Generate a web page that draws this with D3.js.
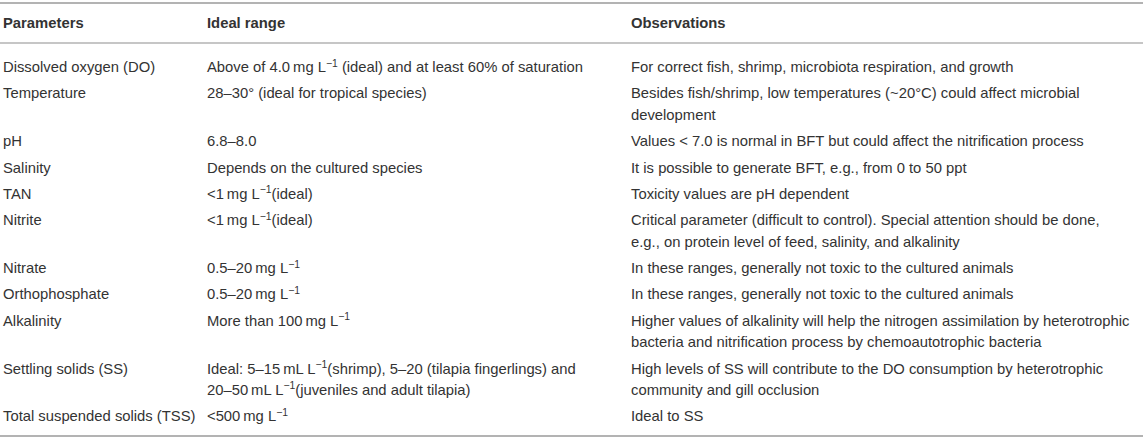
<!DOCTYPE html>
<html>
<head>
<meta charset="utf-8">
<script src="https://cdn.jsdelivr.net/npm/d3@7"></script>
<style>
  html, body { margin: 0; padding: 0; background: #fff; }
  svg { display: block; }
  text { font-family: "Liberation Sans", Arial, Helvetica, sans-serif; fill: #333; }
</style>
</head>
<body>
<svg id="chart" width="1143" height="440"></svg>
<script>
// ---- Data ----
const columns = ["Parameters", "Ideal range", "Observations"];

const parameters = [
  "Dissolved oxygen (DO)",
  "Temperature",
  "pH",
  "Salinity",
  "TAN",
  "Nitrite",
  "Nitrate",
  "Orthophosphate",
  "Alkalinity",
  "Settling solids (SS)",
  "Total suspended solids (TSS)"
];

const idealRanges = [
  ["Above of 4.0\u2009mg L^{\u22121} (ideal) and at least 60% of saturation"],
  ["28\u201330\u00b0 (ideal for tropical species)"],
  ["6.8\u20138.0"],
  ["Depends on the cultured species"],
  ["<1\u2009mg L^{\u22121}(ideal)"],
  ["<1\u2009mg L^{\u22121}(ideal)"],
  ["0.5\u201320\u2009mg L^{\u22121}"],
  ["0.5\u201320\u2009mg L^{\u22121}"],
  ["More than 100\u2009mg L^{\u22121}"],
  ["Ideal: 5\u201315\u2009mL L^{\u22121}(shrimp), 5\u201320 (tilapia fingerlings) and",
   "20\u201350\u2009mL L^{\u22121}(juveniles and adult tilapia)"],
  ["<500\u2009mg L^{\u22121}"]
];

const observations = [
  ["For correct fish, shrimp, microbiota respiration, and growth"],
  ["Besides fish/shrimp, low temperatures (~20\u00b0C) could affect microbial", "development"],
  ["Values < 7.0 is normal in BFT but could affect the nitrification process"],
  ["It is possible to generate BFT, e.g., from 0 to 50 ppt"],
  ["Toxicity values are pH dependent"],
  ["Critical parameter (difficult to control). Special attention should be done,",
   "e.g., on protein level of feed, salinity, and alkalinity"],
  ["In these ranges, generally not toxic to the cultured animals"],
  ["In these ranges, generally not toxic to the cultured animals"],
  ["Higher values of alkalinity will help the nitrogen assimilation by heterotrophic",
   "bacteria and nitrification process by chemoautotrophic bacteria"],
  ["High levels of SS will contribute to the DO consumption by heterotrophic",
   "community and gill occlusion"],
  ["Ideal to SS"]
];

// ---- Layout ----
const W = 1143, H = 440;
const fontSize = 14.8;
const rowPitch = 26.4;   // first line of a row to first line of next row (single-line)
const lineStep = 21.3;   // step between wrapped lines
const firstRowCenter = 66.7;
const headerCenter = 23;
const baselineOffset = 5.3;
const supShift = 5.5;

const svg = d3.select("#chart");

const x = d3.scaleOrdinal().domain(columns).range([3, 207, 631]);

const rows = parameters.map((p, i) => ({
  cells: [[p], idealRanges[i], observations[i]]
}));

// cumulative extra lines before each row
let extra = 0;
rows.forEach((r, i) => {
  r.extraBefore = extra;
  r.index = i;
  const n = d3.max(r.cells, c => c.length);
  extra += n - 1;
});

const y = d3.scaleLinear().domain([0, 1]).range([firstRowCenter, firstRowCenter + rowPitch]);
const rowCenter = r => y(r.index) + r.extraBefore * lineStep;

// rules
const rules = [
  { y: 3, w: 2 },
  { y: 43, w: 1.6 },
  { y: 436, w: 2 }
];
svg.selectAll("line.rule").data(rules).join("line")
  .attr("class", "rule")
  .attr("x1", 0).attr("x2", W)
  .attr("y1", d => d.y).attr("y2", d => d.y)
  .attr("stroke", "#b3b3b3")
  .attr("stroke-width", d => d.w);

// header
svg.selectAll("text.header").data(columns).join("text")
  .attr("class", "header")
  .attr("x", d => x(d))
  .attr("y", headerCenter + baselineOffset)
  .attr("font-size", fontSize)
  .attr("font-weight", "bold")
  .text(d => d);

// rich text with superscripts written as ^{...}
function renderRich(textSel, str) {
  const parts = str.split(/(\^\{[^}]*\})/).filter(s => s.length);
  let raised = false;
  parts.forEach(part => {
    const m = part.match(/^\^\{([^}]*)\}$/);
    if (m) {
      textSel.append("tspan")
        .attr("dy", -supShift)
        .attr("font-size", fontSize * 0.7)
        .text(m[1]);
      raised = true;
    } else {
      const ts = textSel.append("tspan").text(part);
      if (raised) { ts.attr("dy", supShift); raised = false; }
    }
  });
}

const rowG = svg.selectAll("g.row").data(rows).join("g").attr("class", "row");

rowG.each(function(r) {
  const g = d3.select(this);
  r.cells.forEach((lines, ci) => {
    lines.forEach((line, li) => {
      const t = g.append("text")
        .attr("x", x(columns[ci]))
        .attr("y", rowCenter(r) + li * lineStep + baselineOffset)
        .attr("font-size", fontSize);
      renderRich(t, line);
    });
  });
});
</script>
</body>
</html>
